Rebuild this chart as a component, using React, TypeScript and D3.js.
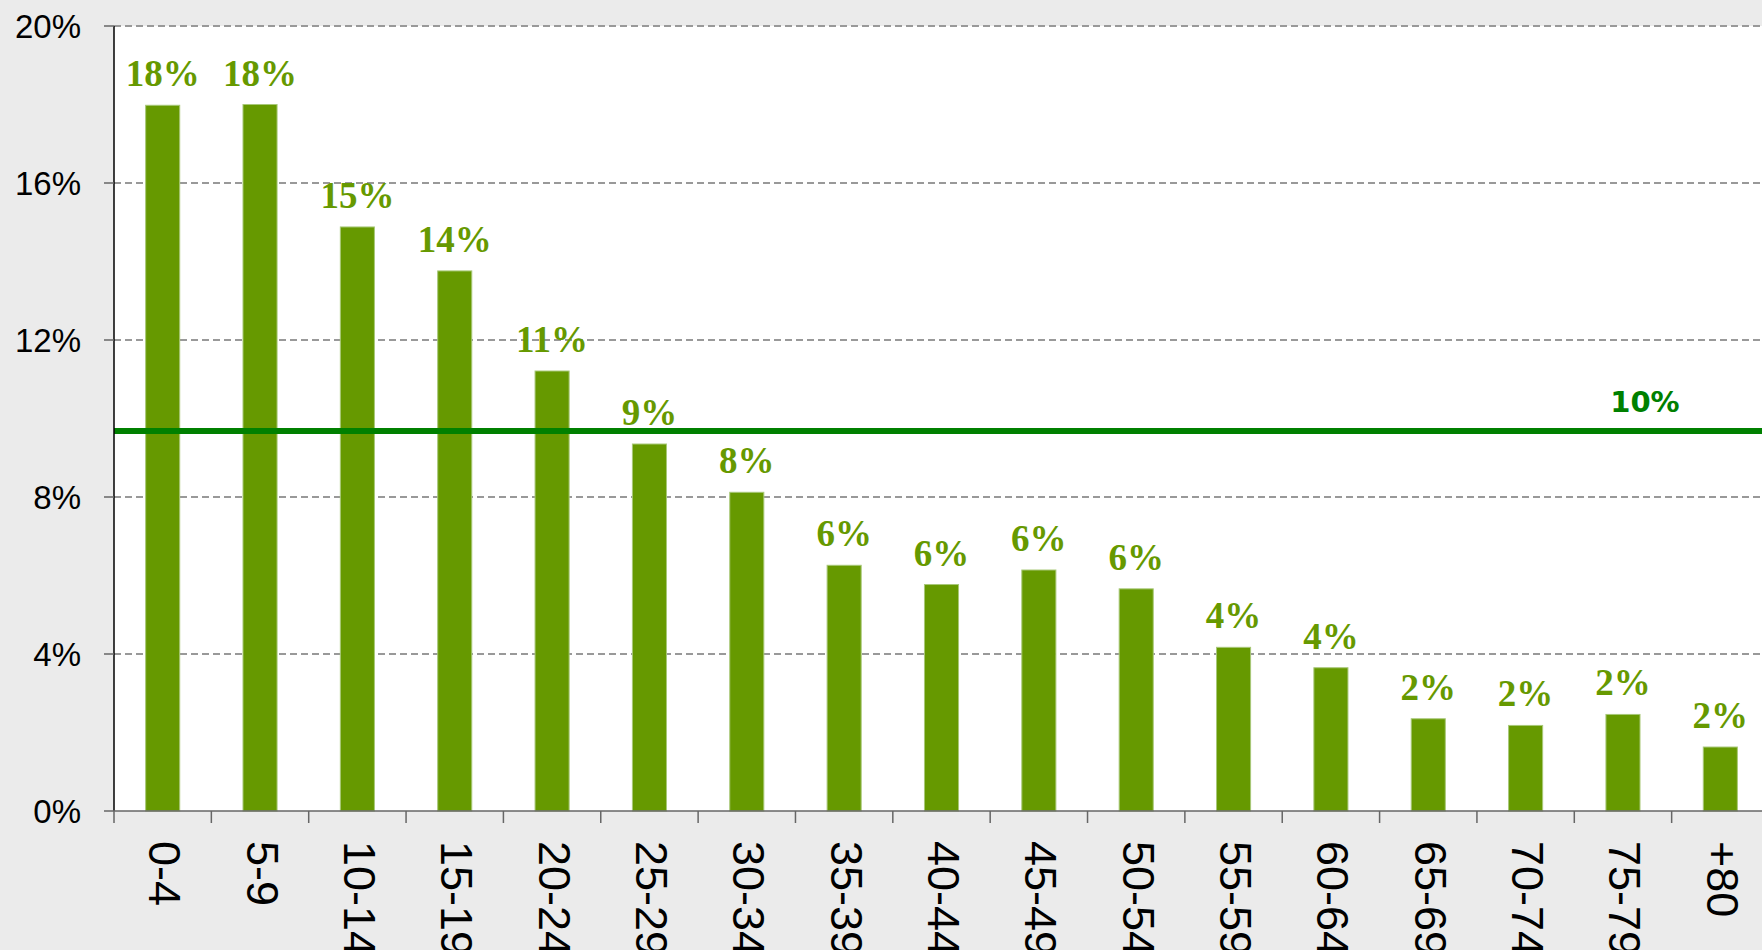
import React from 'react';
import * as d3 from 'd3';

const categories = ['0-4', '5-9', '10-14', '15-19', '20-24', '25-29', '30-34', '35-39', '40-44', '45-49', '50-54', '55-59', '60-64', '65-69', '70-74', '75-79', '+80'];
const values = [17.98, 18.0, 14.88, 13.76, 11.21, 9.35, 8.12, 6.26, 5.77, 6.14, 5.66, 4.17, 3.65, 2.35, 2.18, 2.46, 1.63];
const valueLabels = ['18%', '18%', '15%', '14%', '11%', '9%', '8%', '6%', '6%', '6%', '6%', '4%', '4%', '2%', '2%', '2%', '2%'];
const yTicks = [0, 4, 8, 12, 16, 20];
const refValue = 9.68;
const refLabel = '10%';

const W = 1762;
const H = 950;
const margin = { top: 26, right: -7, bottom: 139, left: 114 };

const App = () => {
  const innerW = W - margin.left - margin.right;
  const innerH = H - margin.top - margin.bottom;

  const x = d3.scaleBand().domain(categories).range([0, innerW]).paddingInner(0).paddingOuter(0);
  const y = d3.scaleLinear().domain([0, 20]).range([innerH, 0]);
  const barW = x.bandwidth() * 0.35;

  return (
    <div style={{ position: 'fixed', left: 0, top: 0, width: W, height: H }}>
      <svg width={W} height={H} style={{ display: 'block' }}>
        <rect x={0} y={0} width={W} height={H} fill="#ebebeb" />
        <g transform={`translate(${margin.left},${margin.top})`}>
          <rect x={0} y={0} width={innerW} height={innerH} fill="#ffffff" />
          {/* grid */}
          {yTicks.filter(t => t > 0).map(t => (
            <line key={t} x1={0} x2={innerW} y1={y(t)} y2={y(t)} stroke="#999999" strokeWidth={2} strokeDasharray="7,4" />
          ))}
          {/* bars */}
          {values.map((v, i) => {
            const cx = x(categories[i])! + x.bandwidth() / 2;
            return (
              <g key={categories[i]}>
                <rect x={cx - barW / 2} y={y(v)} width={barW} height={innerH - y(v)} fill="#669900" stroke="#a8c878" strokeWidth={1} />
                <text x={cx} y={y(v) - 19} textAnchor="middle" fill="#669900"
                  style={{ fontFamily: '"Liberation Serif", serif', fontWeight: 'bold', fontSize: 37 }}>
                  {valueLabels[i]}
                </text>
              </g>
            );
          })}
          {/* reference line */}
          <line x1={0} x2={innerW} y1={y(refValue)} y2={y(refValue)} stroke="#008000" strokeWidth={6} />
          <text x={x('75-79')! + x.bandwidth() / 2 + 22} y={y(refValue) - 19} textAnchor="middle" fill="#008000"
            style={{ fontFamily: '"DejaVu Sans", sans-serif', fontWeight: 'bold', fontSize: 29 }}>
            {refLabel}
          </text>
          {/* y axis */}
          <line x1={0} x2={0} y1={0} y2={innerH} stroke="#000000" strokeWidth={1.5} />
          {yTicks.map(t => (
            <g key={t}>
              <line x1={-10} x2={0} y1={y(t)} y2={y(t)} stroke="#666666" strokeWidth={1.5} />
              <text x={-33} y={y(t)} textAnchor="end" dominantBaseline="central" fill="#000000"
                style={{ fontFamily: '"Liberation Sans", sans-serif', fontSize: 33 }}>
                {`${t}%`}
              </text>
            </g>
          ))}
          {/* x axis */}
          <line x1={0} x2={innerW} y1={innerH} y2={innerH} stroke="#666666" strokeWidth={1.5} />
          {categories.map((c, i) => (
            <line key={c} x1={i * x.bandwidth()} x2={i * x.bandwidth()} y1={innerH} y2={innerH + 12} stroke="#666666" strokeWidth={1.5} />
          ))}
          {categories.map(c => {
            const cx = x(c)! + x.bandwidth() / 2 + 2;
            return (
              <text key={c} transform={`translate(${cx},${innerH + 30}) rotate(90)`} textAnchor="start" dominantBaseline="central" fill="#000000"
                style={{ fontFamily: '"Liberation Sans", sans-serif', fontSize: 45 }}>
                {c}
              </text>
            );
          })}
        </g>
      </svg>
    </div>
  );
};

export default App;
